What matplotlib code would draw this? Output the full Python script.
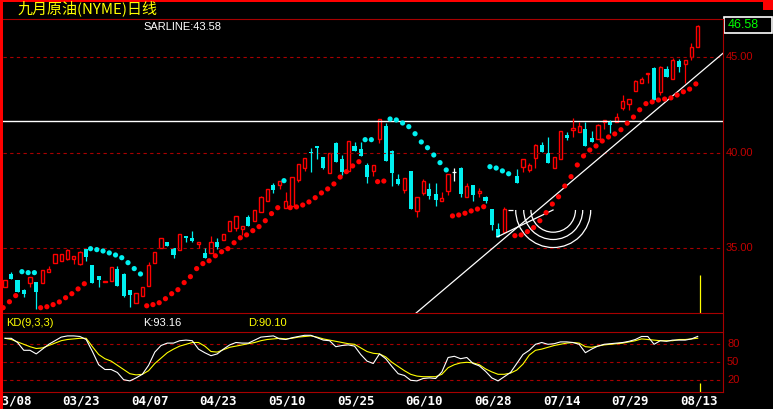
"""
九月原油(NYME)日线 — daily candlestick chart with SAR dots and a KD(9,3,3) panel,
drawn in the black "trading terminal" style.

Output: out.png (773x409)
"""
import matplotlib
matplotlib.use("Agg")
import matplotlib.pyplot as plt
from matplotlib.patches import Rectangle, Arc
from matplotlib.lines import Line2D
from matplotlib.transforms import blended_transform_factory

# ── data ──────────────────────────────────────────────────────────────────────
OPEN = [32.98, 33.66, 33.35, 32.82, 33.21, 33.23, 33.17, 33.78, 34.22, 34.35,
        34.43, 34.43, 34.18, 34.95, 34.13, 33.56, 33.25, 33.31, 33.92, 33.66,
        32.82, 32.13, 32.51, 33.05, 34.22, 35.00, 35.31, 35.02, 34.90, 35.64,
        35.54, 35.24, 34.74, 34.74, 35.33, 35.45, 35.90, 36.08, 36.01, 36.65,
        36.44, 36.88, 37.49, 38.31, 38.32, 37.12, 37.21, 38.57, 39.21, 40.04,
        40.34, 39.75, 38.95, 40.48, 39.65, 39.05, 40.34, 40.18, 39.35, 39.05,
        40.69, 41.38, 40.08, 38.62, 38.04, 39.04, 36.95, 37.90, 38.08, 37.82,
        37.49, 38.01, 38.98, 39.21, 37.69, 38.31, 37.87, 37.66, 37.04, 36.01,
        35.87, 37.00, 38.77, 39.26, 39.09, 39.70, 40.39, 39.96, 39.21, 39.65,
        40.91, 41.18, 41.09, 41.23, 40.77, 40.69, 41.61, 41.61, 41.59, 42.31,
        42.53, 43.23, 43.61, 44.08, 44.43, 43.17, 44.36, 43.82, 44.78, 44.60,
        44.97, 45.52]
HIGH = [33.35, 33.76, 33.35, 32.88, 33.49, 33.23, 33.87, 34.08, 34.70, 34.72,
        34.95, 34.60, 34.85, 34.95, 34.13, 33.56, 33.27, 34.01, 34.08, 33.73,
        32.82, 32.65, 32.97, 34.27, 34.79, 35.52, 35.31, 35.02, 35.73, 35.64,
        35.92, 35.31, 35.02, 35.64, 35.54, 35.73, 36.43, 36.69, 36.17, 36.75,
        37.00, 37.73, 38.08, 38.43, 38.50, 37.95, 38.71, 39.39, 39.70, 40.22,
        40.34, 39.78, 39.96, 40.53, 39.87, 40.60, 40.55, 40.55, 39.44, 39.35,
        41.75, 41.56, 40.13, 38.88, 38.65, 39.04, 37.66, 38.60, 38.39, 38.43,
        37.92, 38.88, 39.18, 39.26, 38.39, 38.31, 38.13, 37.75, 37.04, 36.31,
        37.14, 37.00, 39.12, 39.65, 39.47, 40.44, 40.53, 40.83, 39.78, 41.14,
        41.06, 41.82, 41.58, 41.61, 41.12, 41.50, 41.72, 41.70, 42.05, 43.00,
        42.79, 43.80, 43.96, 44.13, 44.48, 44.53, 44.53, 44.92, 44.88, 44.83,
        45.70, 46.65]
LOW = [32.98, 33.42, 32.74, 32.48, 33.00, 31.83, 33.17, 33.78, 34.22, 34.35,
       34.40, 34.17, 34.15, 34.35, 33.21, 33.00, 33.25, 33.31, 33.05, 32.48,
       31.95, 32.13, 32.51, 33.05, 34.22, 35.00, 35.14, 34.51, 34.90, 35.35,
       35.35, 35.00, 34.48, 34.74, 34.96, 35.45, 35.90, 35.92, 35.70, 36.18,
       36.44, 36.88, 37.49, 37.87, 38.08, 37.12, 37.21, 38.48, 39.05, 39.00,
       39.66, 39.15, 38.95, 39.52, 38.83, 39.05, 40.08, 39.82, 38.42, 38.79,
       40.51, 39.56, 38.25, 38.29, 37.87, 37.05, 36.65, 37.78, 37.57, 37.21,
       37.49, 37.78, 38.53, 37.69, 37.69, 37.49, 37.69, 37.35, 35.96, 35.61,
       35.87, 37.00, 38.39, 39.00, 39.00, 39.19, 40.04, 39.47, 39.21, 39.65,
       40.65, 40.83, 41.09, 40.36, 40.56, 40.69, 41.23, 41.03, 41.59, 42.22,
       42.22, 43.23, 43.61, 43.65, 42.74, 43.00, 43.96, 43.82, 44.22, 43.64,
       44.83, 45.52]
CLOSE = [33.35, 33.42, 32.74, 32.62, 33.49, 32.74, 33.87, 33.92, 34.70, 34.70,
         34.91, 34.60, 34.81, 34.56, 33.21, 33.35, 33.27, 34.01, 33.05, 32.51,
         32.56, 32.65, 32.97, 34.13, 34.79, 35.52, 35.14, 34.65, 35.73, 35.55,
         35.40, 35.31, 34.48, 35.35, 35.08, 35.73, 36.43, 36.69, 36.17, 36.18,
         37.00, 37.66, 38.08, 38.04, 38.50, 37.47, 38.71, 39.39, 39.70, 39.96,
         40.25, 39.18, 39.96, 39.52, 39.00, 40.60, 40.08, 39.82, 38.74, 39.35,
         41.75, 39.56, 38.95, 38.36, 38.65, 37.05, 37.66, 38.51, 37.75, 37.52,
         37.64, 38.88, 38.98, 37.83, 38.27, 37.78, 38.01, 37.47, 36.22, 35.61,
         37.04, 37.00, 38.39, 39.65, 39.35, 40.39, 40.04, 39.47, 39.78, 41.14,
         40.74, 41.30, 41.38, 40.36, 40.56, 41.44, 41.70, 41.44, 41.84, 42.69,
         42.79, 43.73, 43.84, 44.13, 42.74, 44.45, 43.96, 44.83, 44.48, 44.83,
         45.49, 46.58]
SAR = [31.90, 32.21, 32.53, 33.78, 33.73, 33.73, 31.90, 31.95, 32.06, 32.20,
       32.42, 32.63, 32.88, 33.15, 34.98, 34.93, 34.86, 34.76, 34.65, 34.51,
       34.25, 33.94, 33.66, 32.00, 32.06, 32.16, 32.37, 32.63, 32.84, 33.21,
       33.52, 33.94, 34.20, 34.35, 34.61, 34.82, 34.98, 35.29, 35.55, 35.70,
       35.92, 36.13, 36.44, 36.81, 37.12, 38.53, 37.12, 37.16, 37.26, 37.42,
       37.64, 37.89, 38.10, 38.36, 38.72, 39.00, 39.30, 39.52, 40.67, 40.67,
       38.48, 38.51, 41.75, 41.70, 41.54, 41.35, 40.98, 40.55, 40.25, 39.87,
       39.47, 39.09, 36.69, 36.74, 36.83, 36.95, 37.05, 37.17, 39.26, 39.19,
       39.04, 38.89, 35.66, 35.70, 35.87, 36.08, 36.44, 36.86, 37.31, 37.69,
       38.25, 38.74, 39.35, 39.82, 40.13, 40.34, 40.60, 40.81, 40.97, 41.19,
       41.53, 41.85, 42.23, 42.55, 42.64, 42.74, 42.79, 42.85, 43.00, 43.17,
       43.31, 43.58]
K = [90, 90, 83, 70, 70, 64, 72, 80, 86, 92,
     94, 94, 93, 88, 68, 46, 38, 38, 33, 21,
     19, 24, 30, 45, 67, 78, 82, 82, 86, 87,
     86, 72, 66, 61, 64, 72, 79, 83, 82, 82,
     87, 92, 93, 94, 89, 88, 91, 93, 95, 95,
     91, 87, 86, 76, 78, 79, 77, 63, 52, 48,
     64, 56, 43, 31, 28, 20, 19, 23, 24, 23,
     34, 58, 60, 56, 58, 48, 44, 35, 24, 19,
     26, 33, 48, 63, 70, 80, 83, 80, 81, 84,
     84, 83, 80, 66, 72, 77, 80, 81, 82, 83,
     85, 88, 93, 93, 80, 86, 85, 87, 87, 87,
     89, 93.16]
D = [90, 88, 84, 80, 76, 73, 74, 78, 82, 86,
     88, 89, 90, 90, 76, 63, 56, 52, 45, 38,
     31, 29, 30, 36, 48, 57, 66, 72, 77, 80,
     83, 83, 77, 68, 67, 71, 75, 77, 79, 81,
     83, 86, 88, 89, 90, 89, 90, 92, 93, 94,
     92, 89, 87, 85, 83, 81, 80, 74, 68, 65,
     64, 59, 50, 43, 36, 30, 27, 26, 26, 26,
     30, 41, 46, 49, 50, 49, 46, 39, 34, 30,
     30, 32, 37, 47, 62, 70, 72, 75, 78, 80,
     82, 83, 82, 76, 75, 77, 79, 80, 81, 82,
     84, 86, 89, 88, 87, 86, 86, 86, 88, 88,
     89, 90.10]
DATE_LABELS = ["03/08", "03/23", "04/07", "04/23", "05/10", "05/25",
               "06/10", "06/28", "07/14", "07/29", "08/13"]
DATE_BARS = [1, 12, 23, 34, 45, 56, 67, 78, 89, 100, 111]
PRICE_LEVELS = [35.0, 40.0, 45.0]
KD_LEVELS = [20, 50, 80]
RESIST_LEVEL = 41.63
# hand-drawn annotations (bar index, price)
TREND_LINE = [(65.86, 31.62), (115.05, 45.18)]
SHORT_LINE = [(78.84, 35.59), (87.81, 37.00)]
ARC_CENTER = (87.84, 37.00)
ARC_RADII_BARS = [3.57, 4.73, 6.01]
ARC_RADII_PRICE = [1.16, 1.54, 1.96]
CURSOR_BAR = 111.37

RED = "#ff0000"
CYAN = "#00f0f0"
GRID = "#a80000"
LABEL = "#c00000"
YELLOW = "#ffff00"

W, H = 773, 409


def fx(x):
    return x / W


def fy(y):
    return 1 - y / H


fig = plt.figure(figsize=(W / 100, H / 100), dpi=100, facecolor="black")
ax = fig.add_axes([fx(3), fy(313), 720 / W, 294 / H])
kd = fig.add_axes([fx(3), fy(392.3), 720 / W, 60 / H])
for a in (ax, kd):
    a.set_axis_off()
    a.set_xlim(-0.33, 115.05)
ax.set_ylim(31.623, 46.968)
kd.set_ylim(0, 100)

bars = range(len(CLOSE))

# ── main panel ────────────────────────────────────────────────────────────────
for v in PRICE_LEVELS:
    ax.axhline(v, color=GRID, lw=0.8, ls=(0, (3, 3)))
ax.axhline(RESIST_LEVEL, color="white", lw=1)

for i, o, h, l, c in zip(bars, OPEN, HIGH, LOW, CLOSE):
    if c > o:
        ax.add_patch(Rectangle((i - 0.26, o), 0.52, c - o, fill=False, ec=RED, lw=1.0))
        ax.vlines(i, c, h, color=RED, lw=0.9)
        ax.vlines(i, l, o, color=RED, lw=0.9)
    elif c < o:
        ax.vlines(i, l, h, color=CYAN, lw=0.9)
        ax.add_patch(Rectangle((i - 0.33, c), 0.66, o - c, fc=CYAN, ec="none"))
    else:
        ax.vlines(i, l, h, color="white", lw=0.9)
        ax.hlines(o, i - 0.33, i + 0.33, color="white", lw=0.9)

sar_colors = [RED if s < c else CYAN for s, c in zip(SAR, CLOSE)]
ax.scatter([i - 0.3 for i in bars], SAR, s=14, c=sar_colors, linewidths=0, zorder=3)

(x0, y0), (x1, y1) = TREND_LINE
ax.plot([x0, x1], [y0, y1], color="white", lw=0.9)
(x0, y0), (x1, y1) = SHORT_LINE
ax.plot([x0, x1], [y0, y1], color="white", lw=0.9)
for rb, rp in zip(ARC_RADII_BARS, ARC_RADII_PRICE):
    ax.add_patch(Arc(ARC_CENTER, 2 * rb, 2 * rp, theta1=180, theta2=360,
                     color="white", lw=0.9))
ax.vlines(CURSOR_BAR, 31.623, 33.61, color=YELLOW, lw=0.9)

ytr = blended_transform_factory(ax.transAxes, ax.transData)
for v in PRICE_LEVELS:
    ax.text(1 + 3 / 720, v, f"{v:.2f}", transform=ytr, color=LABEL,
            fontsize=8, family="Liberation Sans", va="center", ha="left")

# ── KD panel ──────────────────────────────────────────────────────────────────
for v in KD_LEVELS:
    kd.axhline(v, color=GRID, lw=0.8, ls=(0, (3, 3)))
kd.plot(bars, D, color=YELLOW, lw=0.8)
kd.plot(bars, K, color="white", lw=0.8)
kd.vlines(CURSOR_BAR, 0, 15.5, color=YELLOW, lw=0.9)
ktr = blended_transform_factory(kd.transAxes, kd.transData)
for v in KD_LEVELS:
    kd.text(1 + 4 / 720, v, f"{v}", transform=ktr, color=LABEL,
            fontsize=8, family="Liberation Sans", va="center", ha="left")

# ── frame ─────────────────────────────────────────────────────────────────────
for y in (19, 313, 332.3, 392.3):
    fig.add_artist(Line2D([fx(3), fx(723)], [fy(y), fy(y)], color=GRID, lw=0.8))
fig.add_artist(Line2D([fx(723), fx(723)], [fy(19), fy(392.3)], color=GRID, lw=0.8))
fig.add_artist(Rectangle((0, 0), fx(3), 1, transform=fig.transFigure, color=RED, lw=0))
fig.add_artist(Rectangle((0, fy(2)), 1, 2 / H, transform=fig.transFigure, color=RED, lw=0))
fig.add_artist(Rectangle((fx(763), fy(10)), fx(10), 10 / H,
                         transform=fig.transFigure, color=RED, lw=0))
fig.add_artist(Rectangle((fx(723.5), fy(33.3)), fx(48.5), 16.6 / H,
                         transform=fig.transFigure, fc="black", ec="white", lw=1.2))

# ── texts ─────────────────────────────────────────────────────────────────────
fig.text(fx(18), fy(8), "九月原油(NYME)日线", color=YELLOW, fontsize=10.8,
         family=["Noto Sans CJK SC", "DejaVu Sans"], va="center", ha="left")
fig.text(fx(143), fy(27), f"SARLINE:{SAR[-1]:.2f}", color="white", fontsize=8,
         family="Liberation Sans", va="center", ha="left")
fig.text(fx(728), fy(25), f"{CLOSE[-1]:.2f}", color="#00ff00", fontsize=9,
         family="Liberation Sans", va="center", ha="left")
fig.text(fx(6), fy(322.5), "KD(9,3,3)", color=YELLOW, fontsize=8,
         family="Liberation Sans", va="center", ha="left")
fig.text(fx(143), fy(322.5), f"K:{K[-1]:.2f}", color="white", fontsize=8,
         family="Liberation Sans", va="center", ha="left")
fig.text(fx(248), fy(322.5), f"D:{D[-1]:.2f}", color=YELLOW, fontsize=8,
         family="Liberation Sans", va="center", ha="left")

xtr = blended_transform_factory(ax.transData, fig.transFigure)
for b, lab in zip(DATE_BARS, DATE_LABELS):
    ax.text(b + 0.2, fy(401), lab, transform=xtr, color="white", fontsize=9,
            family="DejaVu Sans Mono", weight="bold", va="center", ha="center")

fig.savefig("out.png", dpi=100, facecolor="black")
